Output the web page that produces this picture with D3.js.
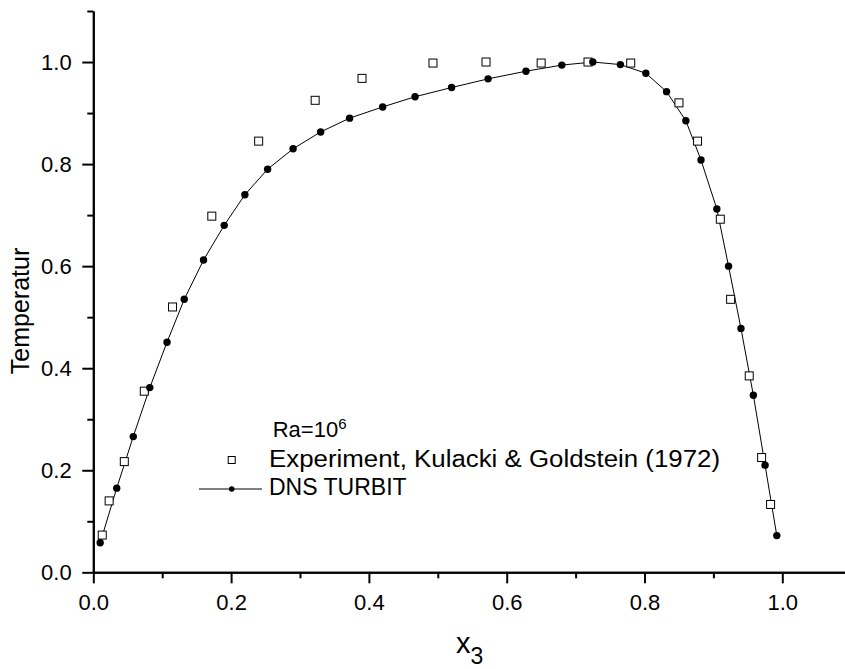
<!DOCTYPE html>
<html>
<head>
<meta charset="utf-8">
<script src="https://cdn.jsdelivr.net/npm/d3@7"></script>
<style>
  body { margin: 0; background: #fff; }
  svg { display: block; font-family: Arial, "Liberation Sans", sans-serif; }
  .axis path, .axis line { stroke: #000; stroke-width: 2; }
  .axis text { font-family: Arial, "Liberation Sans", sans-serif; font-size: 22px; fill: #000; }
  .line { fill: none; stroke: #000; stroke-width: 1; }
</style>
</head>
<body>
<script>
// experiment, Kulacki & Goldstein (1972)
var expX = [0.013, 0.023, 0.045, 0.074, 0.115, 0.172, 0.240, 0.322, 0.390, 0.493, 0.570,
            0.650, 0.718, 0.780, 0.850, 0.877, 0.910, 0.925, 0.952, 0.970, 0.983];
var expT = [0.073, 0.140, 0.217, 0.355, 0.520, 0.698, 0.845, 0.925, 0.968, 0.998, 1.000,
            0.998, 1.000, 0.998, 0.920, 0.845, 0.692, 0.535, 0.385, 0.225, 0.133];

// DNS TURBIT
var dnsX = [0.010, 0.034, 0.058, 0.082, 0.107, 0.132, 0.160, 0.190, 0.220, 0.253, 0.290,
            0.330, 0.372, 0.420, 0.467, 0.520, 0.573, 0.628, 0.680, 0.725, 0.765, 0.802,
            0.832, 0.860, 0.882, 0.905, 0.922, 0.940, 0.958, 0.975, 0.992];
var dnsT = [0.058, 0.165, 0.266, 0.362, 0.451, 0.535, 0.612, 0.680, 0.740, 0.790, 0.830,
            0.863, 0.890, 0.912, 0.932, 0.950, 0.967, 0.982, 0.994, 1.000, 0.995, 0.978,
            0.942, 0.885, 0.808, 0.712, 0.600, 0.478, 0.347, 0.210, 0.072];

var xTicks = [0.0, 0.2, 0.4, 0.6, 0.8, 1.0];
var xMinor = [0.1, 0.3, 0.5, 0.7, 0.9];
var yTicks = [0.0, 0.2, 0.4, 0.6, 0.8, 1.0];
var yMinor = [0.1, 0.3, 0.5, 0.7, 0.9, 1.1];

var margin = {top: 11, left: 93.3},
  width = 689 * 1.1,
  height = 510.3 * 1.1;

var svg = d3.select("body").append("svg")
  .attr("width", 845)
  .attr("height", 669)
  .append("g")
  .attr("transform", "translate(" + margin.left + "," + margin.top + ")");

var x = d3.scaleLinear().range([0, width]).domain([0, 1.1]);
var y = d3.scaleLinear().range([height, 0]).domain([0, 1.1]);

// minor ticks first, then the major axes on top
svg.append("g")
  .attr("class", "x axis")
  .attr("transform", "translate(0," + height + ")")
  .call(d3.axisBottom(x).tickValues(xMinor).tickSize(6).tickSizeOuter(0).tickFormat(""));

svg.append("g")
  .attr("class", "y axis")
  .call(d3.axisLeft(y).tickValues(yMinor).tickSize(6).tickSizeOuter(0).tickFormat(""));

svg.append("g")
  .attr("class", "x axis")
  .attr("transform", "translate(0," + height + ")")
  .call(d3.axisBottom(x).tickValues(xTicks).tickSize(11).tickPadding(10.7)
    .tickSizeOuter(0).tickFormat(d3.format(".1f")));

svg.append("g")
  .attr("class", "y axis")
  .call(d3.axisLeft(y).tickValues(yTicks).tickSize(11).tickPadding(10.6)
    .tickSizeOuter(0).tickFormat(d3.format(".1f")));

// DNS line + dots
var dns = dnsX.map(function(d, i){ return {x: d, t: dnsT[i]}; });
var lineFun = d3.line()
  .x(function(d){ return x(d.x); })
  .y(function(d){ return y(d.t); });

svg.append("path")
  .datum(dns)
  .attr("class", "line")
  .attr("d", lineFun);

// experiment squares
var exp = expX.map(function(d, i){ return {x: d, t: expT[i]}; });
svg.selectAll(".sq")
  .data(exp)
  .enter().append("rect")
  .attr("class", "sq")
  .attr("x", function(d){ return x(d.x) - 4; })
  .attr("y", function(d){ return y(d.t) - 4; })
  .attr("width", 8)
  .attr("height", 8)
  .attr("fill", "#fff")
  .attr("stroke", "#000")
  .attr("stroke-width", 1);

svg.selectAll(".dot")
  .data(dns)
  .enter().append("circle")
  .attr("class", "dot")
  .attr("cx", function(d){ return x(d.x); })
  .attr("cy", function(d){ return y(d.t); })
  .attr("r", 3.7)
  .attr("fill", "#000");

// axis titles (page coordinates)
var root = d3.select("svg");

root.append("text")
  .attr("transform", "translate(28.5,311) rotate(-90)")
  .attr("text-anchor", "middle")
  .attr("font-size", 25)
  .text("Temperatur");

var xt = root.append("text")
  .attr("x", 456)
  .attr("y", 653)
  .attr("font-size", 29)
  .text("x");
xt.append("tspan")
  .attr("font-size", 23)
  .attr("dy", 11)
  .text("3");

// legend
var ra = root.append("text")
  .attr("x", 272.7)
  .attr("y", 437)
  .attr("font-size", 22)
  .text("Ra=10");
ra.append("tspan")
  .attr("font-size", 15)
  .attr("dy", -8)
  .text("6");

root.append("rect")
  .attr("x", 228.2).attr("y", 456.5)
  .attr("width", 7).attr("height", 7)
  .attr("fill", "#fff").attr("stroke", "#000").attr("stroke-width", 1);

root.append("text")
  .attr("x", 269)
  .attr("y", 466.7)
  .attr("font-size", 23)
  .attr("textLength", 451)
  .attr("lengthAdjust", "spacingAndGlyphs")
  .text("Experiment, Kulacki & Goldstein (1972)");

root.append("line")
  .attr("x1", 199).attr("x2", 262)
  .attr("y1", 489).attr("y2", 489)
  .attr("stroke", "#000").attr("stroke-width", 1);
root.append("circle")
  .attr("cx", 231.7).attr("cy", 489).attr("r", 2.8).attr("fill", "#000");

root.append("text")
  .attr("x", 269)
  .attr("y", 495)
  .attr("font-size", 23)
  .text("DNS TURBIT");
</script>
</body>
</html>
